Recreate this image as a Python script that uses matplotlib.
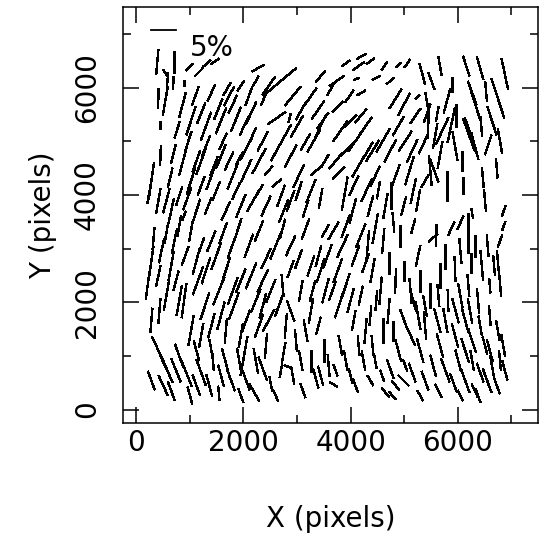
import numpy as np
import matplotlib
matplotlib.use("Agg")
import matplotlib.pyplot as plt
from matplotlib.collections import LineCollection

# polarisation vectors: star position (pixels), degree of polarisation (%),
# angle of the E-vector measured from the +X axis (deg)
star_x = [
    # top left
    390, 710, 410, 580, 690, 540, 890, 990, 1170, 1320, 1470, 860, 760, 450, 450, 280, 690, 630,
    1100, 1210, 1400, 1530, 1690, 1800, 1950, 2100, 2230,
    2270, 2720, 2380, 2620, 2860, 3070, 3390, 3480, 3630,
    970, 1120, 1300, 1450, 1620, 1730, 2050, 1920, 2180, 2700, 2470, 2620, 3160, 3310, 3440, 3370, 3520,
    240, 560, 800, 950, 1210, 1340, 1490, 1670, 1860, 2180, 2290, 2700, 2880, 3030, 3160, 3440,
    # top right
    3910, 4200, 4150, 3740, 4110, 4480, 4630, 4890, 5060, 4200, 5340, 5670, 5510, 5900, 6160, 6420,
    6880, 6750, 6530, 6270,
    3760, 4000, 4190, 3980, 4840, 5000, 5250, 5430, 5430, 5620, 5970, 6190, 6340, 6440, 5710,
    3720, 3960, 3780, 3890, 4060, 4300, 4610, 4520, 4760, 5100, 5020, 5360, 5390, 5560, 5670, 5880,
    6080, 6100, 6210, 6470, 6730, 6570, 6270, 6860, 4990, 5260, 4320, 5210, 5450,
    # bottom left
    890, 320, 470, 560, 710, 800, 1020, 910, 1210, 1400, 1620, 1770, 1900, 2100, 2290, 2420, 2600,
    2730, 2880, 3030, 3160, 3400, 3530,
    210, 410, 430, 560, 740, 890, 1020, 1150, 1280, 1400, 1540, 1670, 1820, 1950, 2050, 2230, 2360,
    2470, 2660, 2730, 2880, 2880, 3070, 3160, 3290, 3440, 3500, 3400,
    430, 560, 650, 800, 930, 1000, 1120, 1210, 1360, 1430, 1540, 1670, 1770, 1920, 2050, 1950, 2200,
    2360, 2510, 2010, 2700, 2750, 2920, 2830, 3110, 3260, 3350, 3590, 280,
    # bottom right
    3680, 3850, 3910, 4090, 4190, 4280, 4320, 4460, 4610, 4710, 4800, 4930, 4990, 5170, 5260, 5540,
    5600, 5670, 5880, 6050, 5950, 6190, 6250, 6450, 6680, 6790, 6790, 6860, 6600,
    3660, 3780, 4000, 4060, 4190, 4280, 4370, 4480, 4610, 4710, 4800, 4990, 5120, 5260, 5390, 5490,
    5620, 5770, 5820, 5950, 6050, 6140, 6270, 6380, 6420, 6510, 6600, 6750, 6850,
    3720, 3680, 3910, 4000, 4090, 4240, 4370, 4460, 4590, 4650, 4740, 4840, 4990, 5020, 5150, 5390,
    5540, 5640, 5770, 5920, 6010, 6140, 6270, 6320, 6420, 6550, 6640, 6730, 6790, 6380,
    # fainter stars filling the gaps
    540, 1020, 1300, 1580, 1860, 2140, 2010, 1730,
    2470, 2920, 3260, 3440, 3000,
    870, 1020, 1210, 1400, 1580, 1800, 2050, 2290, 2360, 2880, 3030, 3260, 2750, 2420, 1950, 1120, 650, 410,
    3810, 4090, 4280, 4410, 4150, 4740, 4890, 5150, 4840, 4460, 4650, 4370, 4040, 5170, 4370, 4740,
    5490, 5800, 5950, 6320, 6640, 6790, 6510, 5800, 5580,
    280, 650, 800, 280, 1120, 1300, 1490, 1670, 1800, 1580, 1210, 1950, 2290, 2140, 2510, 2360, 2790,
    2980, 3260, 3530, 3570, 3260,
    500, 740, 1120, 1400, 1580, 2230, 2420, 3070, 3440, 2600,
    3760, 3910, 4410, 4560, 4840, 5120, 5300, 5640, 5770, 6050, 6320, 6560, 6750, 6230, 5960, 5390,
    5170, 6200,
    3810, 4150, 4410, 4890, 5300, 5670, 6140, 6600, 6880, 6050, 5300, 4780,
]
star_y = [
    6470, 6470, 5800, 6120, 6080, 6270, 6080, 6380, 6290, 6450, 6490, 5670, 5210, 5300, 4740, 4260, 4760, 4320,
    5840, 5520, 5900, 5600, 5970, 5690, 6030, 5840, 6120,
    6360, 6140, 5790, 5430, 5430, 5560, 5580, 5380, 5970,
    5000, 4630, 4910, 4540, 5000, 4630, 4860, 4670, 5130, 4970, 4450, 4220, 4990, 5000, 5280, 4460, 4630,
    4040, 3890, 3980, 3930, 4170, 3790, 4070, 3700, 4070, 3890, 4070, 3980, 3890, 4070, 3740, 3930,
    6450, 6580, 6400, 6120, 6160, 6180, 6400, 6420, 6450, 5900, 6250, 6400, 6120, 6060, 6400, 6360,
    6250, 5800, 5930, 5900,
    5650, 5380, 5470, 5840, 5790, 5690, 5820, 5710, 5520, 5510, 5470, 5280, 5650, 5280, 5190,
    4630, 4870, 4410, 4020, 4170, 4090, 5020, 4090, 3980, 4450, 5000, 4950, 4260, 4460, 4740, 5300,
    4630, 4170, 5120, 4320, 4500, 4930, 3660, 3700, 3790, 3890, 4820, 5470, 5280,
    3610, 3180, 2960, 3290, 3140, 3420, 3330, 2860, 3050, 3140, 3290, 3000, 3370, 3050, 3330, 2810, 3050,
    3370, 3050, 2810, 3370, 2860, 3330,
    2310, 2490, 1840, 2120, 2400, 2030, 1470, 2400, 1930, 1560, 2210, 1470, 1930, 2400, 1660, 2030, 2400,
    1660, 1930, 2310, 2620, 1840, 2210, 1470, 2210, 2590, 1100, 1560,
    1060, 760, 350, 1000, 690, 260, 1100, 690, 450, 910, 300, 870, 540, 910, 540, 260, 320,
    760, 480, 1000, 730, 1060, 630, 800, 350, 910, 580, 820, 540,
    3330, 3050, 3420, 2860, 3240, 2730, 3050, 3370, 3140, 2730, 3480, 3240, 2590, 3420, 2860, 3200,
    3240, 2490, 3370, 3480, 2620, 3290, 2730, 2680, 2680, 2360, 3140, 3420, 2310,
    2210, 1930, 2030, 1660, 2120, 1470, 1750, 2030, 1470, 1840, 1470, 1690, 1380, 1750, 1560, 2120,
    1660, 1660, 2030, 1380, 2120, 1660, 1280, 2030, 1560, 1190, 1750, 1470, 1190,
    730, 470, 910, 630, 450, 910, 540, 910, 630, 320, 760, 450, 540, 820, 690, 540,
    820, 350, 730, 500, 910, 540, 910, 350, 690, 540, 820, 450, 910, 260,
    # fainter stars
    5750, 5380, 5280, 5380, 5410, 5520, 5280, 5840,
    6030, 5840, 5840, 6210, 5280,
    4630, 4260, 4630, 4350, 4720, 4350, 4450, 4630, 5000, 4720, 4350, 4070, 3700, 3790, 3790, 3700, 3700, 3890,
    5190, 5000, 5280, 4820, 4540, 4820, 5280, 4820, 4350, 4350, 3790, 3790, 3700, 4070, 6490, 6120,
    4450, 4170, 4910, 4910, 5380, 5000, 3890, 5750, 5100,
    2770, 2680, 2030, 1660, 2770, 2590, 2860, 2590, 2210, 1750, 1380, 1380, 1560, 2490, 2210, 1930, 1560,
    1280, 1840, 2210, 2860, 2680,
    450, 730, 450, 1100, 630, 910, 1190, 910, 630, 260,
    2590, 2310, 2590, 2210, 2400, 2210, 2400, 2120, 2860, 2960, 3050, 3050, 2770, 1840, 1840, 1930,
    2030, 2310,
    1190, 1190, 1190, 1100, 1100, 1190, 1100, 1100, 730, 260, 260, 260,
]
pol_pct = [
    5.0, 4.4, 4.0, 3.4, 2.6, 1.6, 1.2, 2.0, 2.4, 2.0, 2.0, 5.2, 3.4, 1.6, 4.0, 7.4, 4.0, 4.0,
    4.0, 4.4, 3.6, 4.4, 3.0, 4.0, 2.4, 4.0, 2.4,
    2.8, 7.4, 3.0, 4.4, 1.8, 4.0, 4.4, 4.0, 2.8,
    4.0, 4.4, 4.4, 4.0, 3.6, 4.0, 5.0, 3.0, 3.0, 8.2, 2.4, 2.4, 3.8, 5.0, 5.0, 3.2, 3.0,
    4.4, 5.0, 4.0, 4.8, 4.0, 3.6, 4.0, 4.0, 3.6, 5.0, 3.0, 4.6, 4.4, 4.0, 3.6, 4.0,
    2.0, 2.2, 2.8, 3.6, 1.2, 1.8, 2.0, 1.4, 2.0, 2.0, 4.4, 4.0, 3.6, 3.0, 4.2, 4.8,
    6.4, 8.4, 4.0, 5.0,
    3.0, 3.4, 3.6, 3.0, 4.6, 5.0, 1.2, 4.4, 4.0, 3.0, 4.6, 3.6, 6.0, 4.0, 6.0,
    4.0, 4.4, 3.4, 6.8, 4.4, 5.0, 5.4, 3.6, 5.4, 6.0, 4.8, 4.4, 3.0, 5.0, 5.4, 7.0,
    4.0, 3.4, 7.0, 4.0, 4.0, 4.2, 2.0, 2.4, 4.0, 4.4, 4.0, 3.6, 5.0,
    2.0, 4.4, 5.0, 4.4, 5.0, 4.4, 4.4, 4.0, 3.6, 4.4, 4.4, 4.0, 4.4, 5.0, 4.4, 4.4, 5.6,
    4.0, 4.4, 4.0, 4.4, 4.4, 3.0,
    5.6, 4.4, 5.0, 6.0, 4.0, 7.0, 6.0, 6.0, 5.6, 5.0, 6.0, 5.0, 5.6, 5.0, 4.4, 5.0, 5.0,
    5.0, 4.4, 4.4, 3.6, 4.4, 4.4, 4.4, 4.4, 5.0, 4.6, 3.6,
    7.0, 6.0, 4.0, 5.0, 6.0, 3.6, 4.0, 5.6, 4.4, 4.0, 3.0, 6.0, 4.4, 5.0, 4.0, 3.0, 4.0,
    5.0, 3.0, 8.0, 3.0, 4.0, 3.6, 1.6, 3.0, 4.4, 4.0, 4.4, 4.0,
    4.0, 5.0, 5.0, 4.4, 5.0, 4.0, 6.0, 6.0, 5.0, 4.4, 4.0, 4.4, 4.0, 3.0, 4.4, 2.4,
    4.4, 5.0, 3.0, 3.0, 5.0, 8.0, 4.0, 6.0, 4.0, 5.6, 2.6, 2.0, 3.0,
    4.0, 5.0, 5.0, 4.0, 4.0, 5.0, 4.0, 4.0, 5.0, 5.0, 4.0, 4.0, 4.4, 5.6, 5.6, 5.0,
    5.0, 5.0, 4.4, 5.0, 5.0, 5.0, 5.0, 5.0, 4.0, 3.6, 4.0, 4.0, 4.4,
    2.4, 1.8, 4.0, 3.0, 3.0, 4.0, 2.4, 3.0, 2.4, 2.4, 4.0, 2.4, 3.0, 2.4, 4.0, 4.0,
    4.4, 3.0, 5.0, 4.0, 4.4, 5.0, 4.0, 3.0, 4.0, 5.0, 4.0, 3.6, 4.0, 3.0,
    # fainter stars
    6.0, 6.0, 6.0, 5.6, 5.2, 5.0, 4.0, 4.4,
    4.4, 5.0, 4.0, 3.0, 5.0,
    6.0, 5.6, 5.6, 5.6, 5.0, 5.6, 5.0, 5.6, 4.4, 5.0, 5.0, 5.0, 5.0, 4.4, 5.0, 5.0, 5.0, 5.0,
    5.0, 5.0, 4.4, 5.0, 5.0, 5.0, 4.4, 5.0, 5.0, 4.4, 5.0, 4.4, 5.0, 5.0, 2.0, 2.0,
    6.0, 6.0, 6.0, 5.6, 6.0, 5.0, 4.4, 5.0, 5.0,
    6.0, 6.0, 6.0, 5.0, 5.6, 5.6, 5.6, 5.6, 5.6, 5.6, 5.0, 5.0, 5.0, 5.6, 5.0, 5.0, 5.0,
    4.4, 5.0, 5.0, 5.0, 4.4,
    4.4, 5.0, 4.4, 4.4, 4.4, 5.0, 5.0, 4.0, 4.0, 2.4,
    5.0, 5.0, 5.0, 5.6, 5.0, 5.0, 4.4, 4.4, 5.0, 5.0, 4.4, 4.4, 4.0, 5.0, 5.0, 4.4,
    4.4, 4.4,
    4.0, 4.0, 4.0, 4.4, 5.0, 5.0, 5.0, 4.4, 4.0, 2.4, 2.4, 2.0,
]
pol_ang = [
    85, 90, 88, 85, 88, 120, 90, 45, 45, 40, 35, 75, 73, 90, 88, 82, 76, 76,
    70, 68, 65, 68, 60, 65, 55, 70, 60,
    30, 40, 65, 35, 75, 60, 55, 55, 60,
    72, 70, 68, 68, 65, 65, 62, 62, 65, 61, 50, 40, 60, 60, 65, 40, 60,
    80, 75, 72, 70, 70, 68, 68, 65, 65, 60, 60, 70, 70, 72, 72, 80,
    35, 30, 35, 35, 20, 25, 55, 45, 55, 30, 105, 100, 110, 90, 108, 106,
    102, 108, 95, 110,
    45, 45, 50, 55, 58, 62, 45, 100, 70, 80, 90, 110, 108, 95, 65,
    50, 45, 45, 80, 65, 65, 60, 80, 90, 73, 57, 65, 60, 110, 80, 78,
    90, 90, 110, 95, 95, 72, 100, 70, 75, 80, 60, 55, 88,
    70, 85, 78, 80, 78, 80, 80, 70, 70, 68, 70, 70, 72, 70, 68, 65, 68,
    75, 65, 70, 70, 75, 60,
    82, 78, 85, 80, 75, 82, 80, 70, 72, 75, 68, 85, 70, 68, 70, 68, 65,
    62, 70, 95, 70, 110, 80, 100, 75, 72, 90, 75,
    115, 115, 110, 110, 112, 105, 105, 110, 105, 95, 95, 105, 110, 100, 110, 110, 120,
    110, 100, 80, 80, 80, 100, 160, 110, 90, 105, 95, 110,
    60, 65, 70, 70, 68, 70, 85, 80, 85, 90, 95, 90, 90, 75, 78, 40,
    88, 90, 65, 65, 92, 90, 90, 95, 95, 95, 70, 70, 95,
    70, 72, 75, 80, 78, 85, 85, 85, 90, 85, 90, 110, 115, 100, 95, 90,
    105, 100, 92, 105, 100, 105, 108, 95, 100, 105, 95, 100, 100,
    110, 150, 100, 105, 110, 100, 120, 100, 110, 130, 110, 130, 135, 110, 110, 110,
    105, 115, 110, 110, 105, 110, 100, 115, 110, 110, 100, 110, 95, 110,
    # fainter stars
    80, 72, 70, 68, 68, 65, 65, 62,
    55, 50, 55, 50, 60,
    75, 72, 70, 70, 68, 68, 65, 62, 62, 62, 65, 68, 68, 65, 68, 72, 78, 80,
    55, 55, 55, 58, 60, 62, 60, 65, 70, 65, 80, 75, 75, 78, 35, 40,
    95, 90, 100, 105, 108, 100, 95, 75, 80,
    82, 80, 80, 85, 75, 72, 70, 72, 70, 75, 80, 80, 70, 68, 68, 75, 85,
    95, 80, 75, 70, 72,
    115, 112, 110, 100, 105, 100, 85, 100, 105, 115,
    70, 72, 80, 85, 88, 95, 90, 95, 90, 95, 90, 95, 95, 100, 105, 100,
    105, 95,
    100, 95, 95, 105, 105, 105, 108, 105, 105, 115, 120, 130,
]

key_pct = 5
pix_per_pct = 93.0

x = np.array(star_x, dtype=float)
y = np.array(star_y, dtype=float)
half = 0.5 * np.array(pol_pct) * pix_per_pct
t = np.radians(pol_ang)
dx = half * np.cos(t)
dy = half * np.sin(t)
segs = np.stack([np.column_stack([x - dx, y - dy]),
                 np.column_stack([x + dx, y + dy])], axis=1)

fig = plt.figure(figsize=(5.41, 5.40), dpi=100)
ax = fig.add_axes([123 / 541, 1 - 423 / 540, 415 / 541, 416 / 540])

ax.add_collection(LineCollection(segs, colors="black", linewidths=1.0,
                                 antialiaseds=False))

# 5% key in the upper left corner
ax.plot([280, 280 + key_pct * pix_per_pct], [7070, 7070], color="black", lw=1.3)
ax.text(990, 6740, f"{key_pct}%", fontsize=20, va="center", ha="left")

ax.set_xlim(-250, 7500)
ax.set_ylim(-250, 7500)

major = [0, 2000, 4000, 6000]
minor = [1000, 3000, 5000, 7000]
ax.set_xticks(major)
ax.set_xticks(minor, minor=True)
ax.set_yticks(major)
ax.set_yticks(minor, minor=True)
ax.set_xticklabels([str(v) for v in major], fontsize=20)
ax.set_yticklabels([str(v) for v in major], fontsize=20, rotation=90, va="center")

ax.tick_params(which="both", direction="in", top=True, right=True, width=1.1)
ax.tick_params(which="major", length=11.5)
ax.tick_params(which="minor", length=5.8)
ax.tick_params(axis="x", pad=4)
ax.tick_params(axis="y", pad=16)
for s in ax.spines.values():
    s.set_linewidth(1.1)

ax.set_xlabel("X (pixels)", fontsize=20)
ax.set_ylabel("Y (pixels)", fontsize=20)
ax.xaxis.set_label_coords(0.5, -0.197)
ax.yaxis.set_label_coords(-0.16, 0.5)

fig.savefig("out.png", dpi=100)
